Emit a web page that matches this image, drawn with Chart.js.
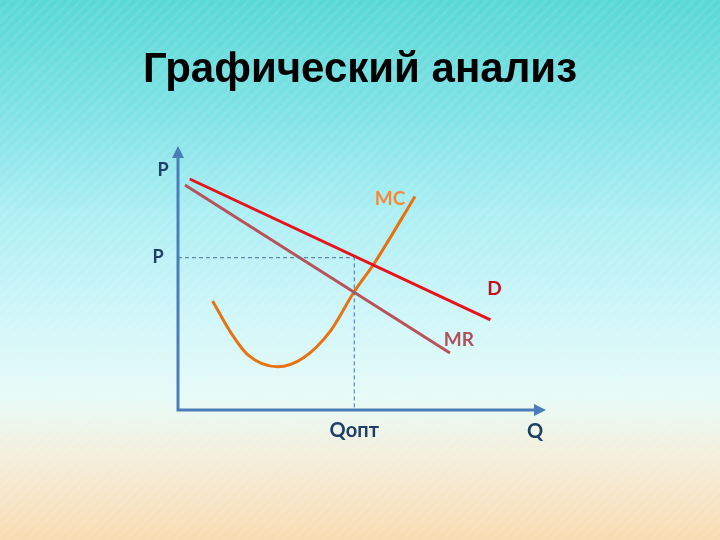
<!DOCTYPE html>
<html lang="ru">
<head>
    <meta charset="UTF-8">
    <title>Графический анализ</title>
    <script src="https://cdn.jsdelivr.net/npm/chart.js"></script>
    <style>
        html, body {
            margin: 0;
            padding: 0;
        }
        body {
            position: relative;
            width: 720px;
            height: 540px;
            overflow: hidden;
            background:
                repeating-linear-gradient(135deg, rgba(255,255,255,0.07) 0 3px, rgba(255,255,255,0) 3px 7px),
                linear-gradient(180deg, #58d8d6 0%, #82e3e6 22%, #aeeff4 40%, #d2f7f9 60%, #e8fbf7 74%, #f4efdd 84%, #f8dcb2 100%);
        }
        h1 {
            position: absolute;
            left: 0;
            top: 47px;
            width: 720px;
            margin: 0;
            text-align: center;
            font: bold 42px/42px "Liberation Sans", Arial, sans-serif;
            color: #000;
        }
        #chart {
            display: block;
        }
    </style>
</head>
<body>
<h1>Графический анализ</h1>
<canvas id="chart" width="720" height="540"></canvas>

<script>
// кривые (Q, P) в условных единицах 0..10
const demandD = [{x: 0.32, y: 8.75}, {x: 8.49, y: 3.41}];
const revenueMR = [{x: 0.19, y: 8.52}, {x: 7.39, y: 2.16}];
const costMC = [
    {x: 0.94, y: 4.13}, {x: 1.40, y: 3.01}, {x: 1.90, y: 2.09},
    {x: 2.71, y: 1.64}, {x: 3.40, y: 1.97}, {x: 4.15, y: 3.01},
    {x: 4.77, y: 4.44}, {x: 5.33, y: 5.55}, {x: 6.44, y: 8.09}
];
const qOpt = 4.79;
const pOpt = 5.77;
const guide = [{x: 0, y: pOpt}, {x: qOpt, y: pOpt}, {x: qOpt, y: 0}];

const labelFont = '"Lato", "Open Sans", sans-serif';
const axisColor = '#4a7ebb';

// оси со стрелками и подписи
const economicsPlugin = {
    id: 'economics',
    beforeDatasetsDraw(chart) {
        const {ctx, scales: {x, y}} = chart;
        const x0 = x.getPixelForValue(0), y0 = y.getPixelForValue(0);
        const xEnd = x.getPixelForValue(10), yEnd = y.getPixelForValue(10);
        ctx.save();
        ctx.strokeStyle = axisColor;
        ctx.fillStyle = axisColor;
        ctx.lineWidth = 3;
        ctx.beginPath();
        ctx.moveTo(x0, yEnd + 8);
        ctx.lineTo(x0, y0);
        ctx.lineTo(xEnd - 8, y0);
        ctx.stroke();
        // стрелки
        ctx.beginPath();
        ctx.moveTo(x0, yEnd);
        ctx.lineTo(x0 - 6, yEnd + 12);
        ctx.lineTo(x0 + 6, yEnd + 12);
        ctx.closePath();
        ctx.fill();
        ctx.beginPath();
        ctx.moveTo(xEnd, y0);
        ctx.lineTo(xEnd - 12, y0 - 6);
        ctx.lineTo(xEnd - 12, y0 + 6);
        ctx.closePath();
        ctx.fill();
        ctx.restore();
    },
    afterDatasetsDraw(chart) {
        const {ctx, scales: {x, y}} = chart;
        const px = v => x.getPixelForValue(v);
        const py = v => y.getPixelForValue(v);
        const put = (text, cx, cy, color, size) => {
            ctx.font = `bold ${size}px ${labelFont}`;
            ctx.fillStyle = color;
            ctx.textAlign = 'center';
            ctx.textBaseline = 'middle';
            ctx.fillText(text, cx, cy);
        };
        ctx.save();
        put('P', px(0) - 15, py(9.1), '#1f3f66', 18);
        put('P', px(0) - 20, py(pOpt), '#1f3f66', 18);
        put('Qопт', px(qOpt), py(0) + 21, '#1f3f66', 20);
        put('Q', px(10) - 11, py(0) + 22, '#1f3f66', 20);
        const mcEnd = costMC[costMC.length - 1];
        put('MC', px(mcEnd.x) - 25, py(mcEnd.y) + 2, '#f28a3c', 19);
        const dEnd = demandD[1];
        put('D', px(dEnd.x) + 4, py(dEnd.y) - 31, '#c8101c', 19);
        const mrEnd = revenueMR[1];
        put('MR', px(mrEnd.x) + 9, py(mrEnd.y) - 13, '#b4505a', 19);
        ctx.restore();
    }
};

new Chart(document.getElementById('chart'), {
    type: 'scatter',
    data: {
        datasets: [
            {
                label: 'guide',
                data: guide,
                showLine: true,
                borderColor: '#4a6fa5',
                borderWidth: 1,
                borderDash: [4, 3],
                pointRadius: 0
            },
            {
                label: 'MR',
                data: revenueMR,
                showLine: true,
                borderColor: '#b8535c',
                borderWidth: 3,
                pointRadius: 0
            },
            {
                label: 'D',
                data: demandD,
                showLine: true,
                borderColor: '#e8141c',
                borderWidth: 3,
                pointRadius: 0
            },
            {
                label: 'MC',
                data: costMC,
                showLine: true,
                borderColor: '#e8720f',
                borderWidth: 3,
                pointRadius: 0,
                cubicInterpolationMode: 'monotone'
            }
        ]
    },
    options: {
        responsive: false,
        animation: false,
        events: [],
        layout: {
            padding: {left: 178, right: 174, top: 146, bottom: 130}
        },
        scales: {
            x: {type: 'linear', min: 0, max: 10, display: false},
            y: {type: 'linear', min: 0, max: 10, display: false}
        },
        plugins: {
            legend: {display: false},
            tooltip: {enabled: false}
        }
    },
    plugins: [economicsPlugin]
});
</script>
</body>
</html>
